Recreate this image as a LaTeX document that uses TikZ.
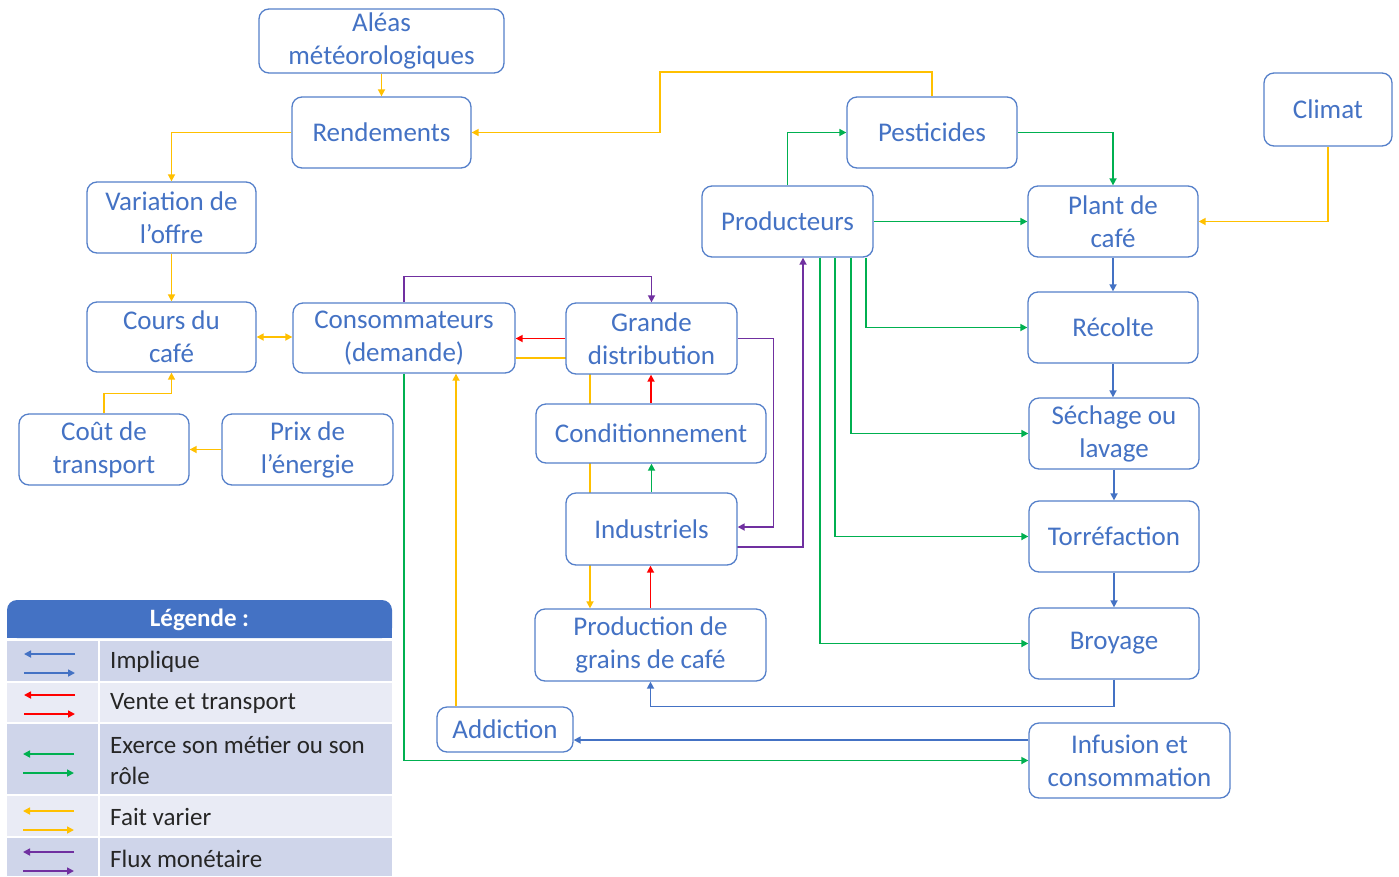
\documentclass[tikz,border=0pt]{standalone}
\usepackage{fontspec}
\setmainfont{Carlito}
\usetikzlibrary{arrows.meta,calc}
\pgfdeclarelayer{bg}\pgfsetlayers{bg,main}
\definecolor{tx}{HTML}{4472C4}
\definecolor{bd}{HTML}{5580CA}
\definecolor{cb}{HTML}{4472C4}
\definecolor{cg}{HTML}{00B050}
\definecolor{cr}{HTML}{FF0000}
\definecolor{cy}{HTML}{FFC000}
\definecolor{cp}{HTML}{7030A0}
\definecolor{lgh}{HTML}{4472C4}
\definecolor{lgd}{HTML}{CFD5EA}
\definecolor{lgl}{HTML}{E9EBF5}
\definecolor{lgt}{HTML}{262626}
\tikzset{
  box/.style={draw=bd, line width=1.3pt, rounded corners=10pt, fill=white, text=tx,
    align=center, inner sep=0pt, font=\fontsize{27}{33}\selectfont},
  con/.style={line width=1.6pt, ->},
  >={Triangle[length=7pt,width=7pt]},
  lgtext/.style={anchor=west, text=lgt, align=left, inner sep=0pt, font=\fontsize{25}{31}\selectfont},
}
\begin{document}
\begin{tikzpicture}[x=1pt,y=-1pt]
\useasboundingbox (0,0) rectangle (1399,876);
% nodes
\node[box, minimum width=245pt, minimum height=64pt] (alea) at (381.5,41) {Aléas\\météorologiques};
\node[box, minimum width=179pt, minimum height=71pt] (rend) at (381.5,132.5) {Rendements};
\node[box, minimum width=169pt, minimum height=71pt] (varof) at (171.5,217.5) {Variation de\\l’offre};
\node[box, minimum width=169pt, minimum height=70pt] (cours) at (171.5,337) {Cours du\\café};
\node[box, minimum width=222pt, minimum height=70pt] (conso) at (404,338) {Consommateurs\\(demande)};
\node[box, minimum width=171pt, minimum height=71pt] (grande) at (651.5,338.5) {Grande\\distribution};
\node[box, minimum width=230pt, minimum height=59pt] (cond) at (651,433.5) {Conditionnement};
\node[box, minimum width=171pt, minimum height=72pt] (indus) at (651.5,529) {Industriels};
\node[box, minimum width=231pt, minimum height=72pt] (prodg) at (650.5,645) {Production de\\grains de café};
\node[box, minimum width=136pt, minimum height=45pt] (addic) at (505,729.5) {Addiction};
\node[box, minimum width=170pt, minimum height=71pt] (cout) at (104,449.5) {Coût de\\transport};
\node[box, minimum width=171pt, minimum height=71pt] (prix) at (307.5,449.5) {Prix de\\l’énergie};
\node[box, minimum width=170pt, minimum height=71pt] (pest) at (932,132.5) {Pesticides};
\node[box, minimum width=171pt, minimum height=71pt] (prod) at (787.5,221.5) {Producteurs};
\node[box, minimum width=170pt, minimum height=71pt] (plant) at (1113,221.5) {Plant de\\café};
\node[box, minimum width=128pt, minimum height=73pt] (climat) at (1328,109.5) {Climat};
\node[box, minimum width=170pt, minimum height=71pt] (recolte) at (1113,327.5) {Récolte};
\node[box, minimum width=170pt, minimum height=71pt] (sechage) at (1114,433.5) {Séchage ou\\lavage};
\node[box, minimum width=170pt, minimum height=71pt] (torref) at (1114,536.5) {Torréfaction};
\node[box, minimum width=170pt, minimum height=71pt] (broy) at (1114,643.5) {Broyage};
\node[box, minimum width=201pt, minimum height=75pt] (infus) at (1129.5,760.5) {Infusion et\\consommation};
% connectors
\begin{pgfonlayer}{bg}
\fill[white] (0,0) rectangle (1399,876);
\draw[cy,con] (alea.south) -- (rend.north);
\draw[cy,con] (rend.west) -| (varof.north);
\draw[cy,con] (varof.south) -- (cours.north);
\draw[cy,con,<->] (cours.east) -- (cours.east -| conso.west);
\draw[cy,con] (cout.north) -- ++(0,-20) -| (cours.south);
\draw[cy,con] (prix.west) -- (prix.west -| cout.east);
\draw[cy,con] (pest.north) |- (660,72) |- (rend.east);
\draw[cg,con] (prod.north) |- (pest.west);
\draw[cg,con] (pest.east) -| (plant.north);
\draw[cg,con] (prod.east) -- (plant.west);
\draw[cy,con] (climat.south) |- (plant.east);
\draw[cb,con] (plant.south) -- (recolte.north);
\draw[cb,con] (recolte.south) -- (recolte.south |- sechage.north);
\draw[cb,con] (sechage.south) -- (torref.north);
\draw[cb,con] (torref.south) -- (broy.north);
\draw[cb,con] (broy.south) -- ++(0,27) -| (prodg.south);
\draw[cb,con] ([yshift=20.5pt]infus.west) -- ([yshift=20.5pt]infus.west -| addic.east);
\draw[cg,con] (conso.south) |- (infus.west);
\draw[cy,con] ([xshift=-49pt]addic.north) -- ([xshift=-49pt]addic.north |- conso.south);
\draw[cp,con] (conso.north) -- ++(0,-26) -| (grande.north);
\draw[cr,con] (grande.west) -- (grande.west -| conso.east);
\draw[cy,con] ([yshift=-20pt]conso.east) -| ([xshift=-60.5pt]prodg.north);
\draw[cr,con] (cond.north) -- (cond.north |- grande.south);
\draw[cg,con] (indus.north) -- (indus.north |- cond.south);
\draw[cr,con] (prodg.north) -- (prodg.north |- indus.south);
\draw[cp,con] (grande.east) -- ++(36,0) |- ([yshift=2pt]indus.east);
\draw[cp,con] ([xshift=-3pt,yshift=-18pt]indus.east) -| ([xshift=15.5pt]prod.south);
\draw[cg,con] ([xshift=78.5pt]prod.south) |- (recolte.west);
\draw[cg,con] ([xshift=63.5pt]prod.south) |- (sechage.west);
\draw[cg,con] ([xshift=47.5pt]prod.south) |- (torref.west);
\draw[cg,con] ([xshift=32.5pt]prod.south) |- (broy.west);
\end{pgfonlayer}
% legend
\fill[lgh, rounded corners=10pt] (7,600) rectangle (392,638);
\fill[lgh] (7,620) rectangle (392,638);
\node[text=white, font=\fontsize{25}{30}\selectfont\bfseries, inner sep=0pt] (lgtitle) at (199.5,620) {Légende :};
\foreach \ya/\yb/\c in {641/681/lgd, 683/722/lgl, 724/794/lgd, 796/836/lgl, 838/876/lgd}{
  \fill[\c] (7,\ya) rectangle (98,\yb);
  \fill[\c] (100,\ya) rectangle (392,\yb);
}
\draw[cb,con] (75,654) -- (24,654);
\draw[cb,con] (24,673) -- (75,673);
\draw[cr,con] (75,695) -- (24,695);
\draw[cr,con] (24,714) -- (75,714);
\draw[cg,con] (74,754) -- (23,754);
\draw[cg,con] (23,773) -- (74,773);
\draw[cy,con] (74,811) -- (23,811);
\draw[cy,con] (23,830) -- (74,830);
\draw[cp,con] (74,852) -- (23,852);
\draw[cp,con] (23,871) -- (74,871);
\node[lgtext] (l1) at (110,662) {Implique};
\node[lgtext] (l2) at (110,703) {Vente et transport};
\node[lgtext] (l3) at (110,760) {Exerce son métier ou son\\rôle};
\node[lgtext] (l4) at (110,817) {Fait varier};
\node[lgtext] (l5) at (110,859) {Flux monétaire};
\end{tikzpicture}
\end{document}
